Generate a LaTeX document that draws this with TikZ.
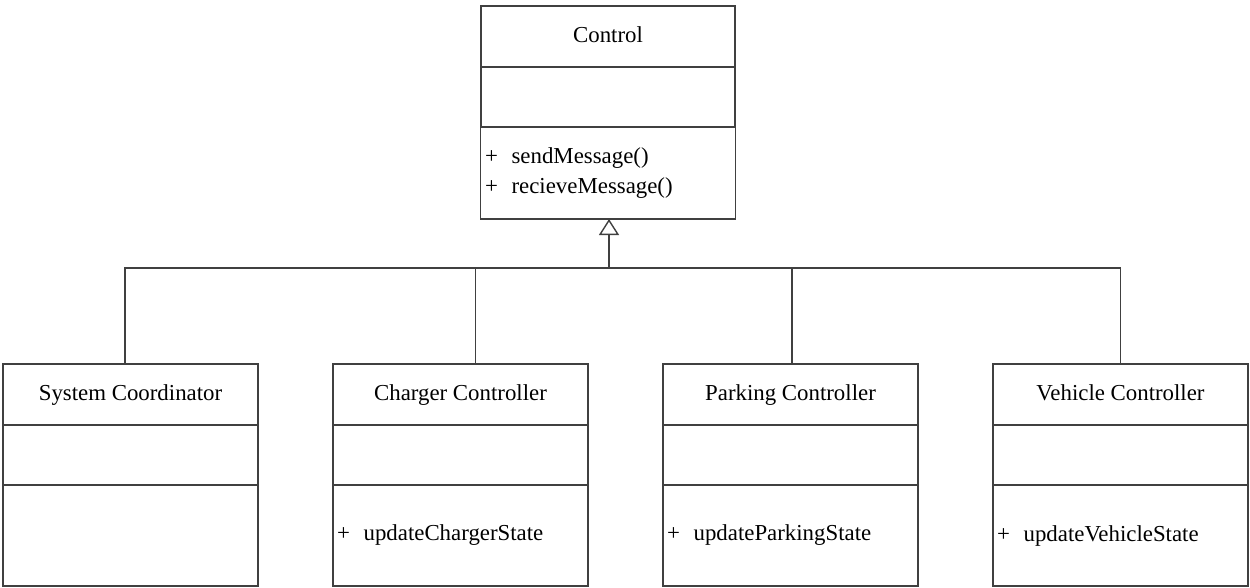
\documentclass[tikz,border=0pt]{standalone}
\usepackage{fontspec}
\setmainfont{Liberation Serif}
\usetikzlibrary{positioning, arrows.meta}
\tikzset{
    classbox/.style={rectangle, draw=black!75, line width=0.8pt, minimum width=5.1cm, inner sep=0pt, outer sep=0pt, font=\fontsize{13}{17.6}\selectfont},
    classname/.style={classbox, minimum height=1.22cm, text centered, text height=0.33cm, text depth=0.1cm},
    classattr/.style={classbox, minimum height=1.2cm},
    classops/.style={classbox, minimum height=2.02cm, text width=4.94cm, inner xsep=0.08cm, align=left},
    arrow/.style={line width=0.8pt, draw=black!75, -{Triangle[open, width=0.4cm, length=0.32cm]}},
    link/.style={line width=0.8pt, draw=black!75}
}

\begin{document}
\begin{tikzpicture}
        \useasboundingbox (0,0) rectangle (25,-11.74);

        % parent class
        \node (ctrlT) [classname, minimum width=5.08cm] at (12.16,-0.73) {Control};
        \node (ctrlA) [classattr, minimum width=5.08cm, below=0pt of ctrlT] {};
        \node (ctrlM) [classops, minimum height=1.84cm, text width=4.92cm, below=0pt of ctrlA] {+\hspace{0.6em}sendMessage()\\+\hspace{0.6em}recieveMessage()};

        % child classes
        \node (sysT) [classname] at (2.61,-7.89) {System Coordinator};
        \node (sysA) [classattr, below=0pt of sysT] {};
        \node (sysM) [classops, below=0pt of sysA] {};

        \node (chgT) [classname, right=1.5cm of sysT] {Charger Controller};
        \node (chgA) [classattr, below=0pt of chgT] {};
        \node (chgM) [classops, below=0pt of chgA] {+\hspace{0.6em}updateChargerState};

        \node (prkT) [classname, right=1.5cm of chgT] {Parking Controller};
        \node (prkA) [classattr, below=0pt of prkT] {};
        \node (prkM) [classops, below=0pt of prkA] {+\hspace{0.6em}updateParkingState};

        \node (vehT) [classname, right=1.5cm of prkT] {Vehicle Controller};
        \node (vehA) [classattr, below=0pt of vehT] {};
        \node (vehM) [classops, below=0pt of vehA] {+\hspace{0.6em}updateVehicleState};

        % generalisation
        \coordinate (bus) at ([xshift=0.02cm]ctrlM.south |- 0,-5.36);
        \draw [arrow] (bus) -- (bus |- ctrlM.south);
        \draw [link] ([xshift=-0.11cm]sysT.north) |- (bus);
        \draw [link] ([xshift=0.3cm]chgT.north) |- (bus);
        \draw [link] ([xshift=0.03cm]prkT.north) |- (bus);
        \draw [link] (vehT.north) |- (bus);
    \end{tikzpicture}
\end{document}
